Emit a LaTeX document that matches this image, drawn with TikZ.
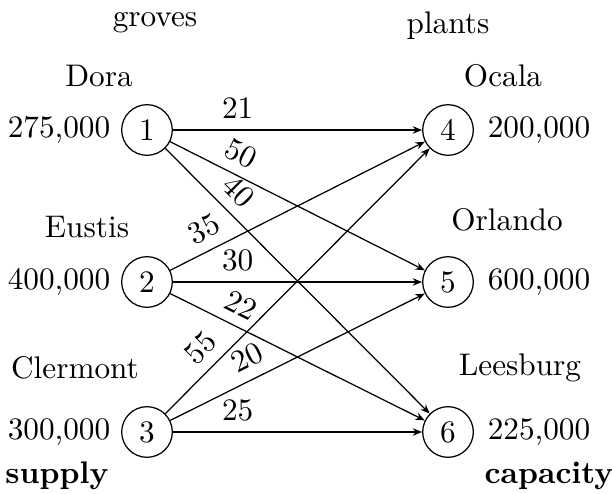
\documentclass[tikz,border=0pt]{standalone}
\usetikzlibrary{arrows.meta}
\begin{document}
\begin{tikzpicture}[x=0.32pt,y=-0.32pt,
  vertex/.style={circle,draw,inner sep=0pt,minimum size=16.2pt},
  flow/.style={-{Stealth[length=3pt,width=2.4pt]}},
  cost/.style={sloped,above}]
\useasboundingbox (0,0) rectangle (612,494);

% column headings
\node (hg) at (155,23) {groves};
\node (hp) at (448,26) {plants};

% groves (sources)
\node[vertex] (n1) at (147,130) {1};
\node[vertex] (n2) at (147,282) {2};
\node[vertex] (n3) at (147,432) {3};
% plants (sinks)
\node[vertex] (n4) at (448,130) {4};
\node[vertex] (n5) at (448,282) {5};
\node[vertex] (n6) at (448,432) {6};

% names
\node (dora) at (99,76) {Dora};
\node (eustis) at (87,227) {Eustis};
\node (clermont) at (75,368) {Clermont};
\node (ocala) at (503,76) {Ocala};
\node (orlando) at (507,220) {Orlando};
\node (leesburg) at (520,368) {Leesburg};

% supplies and capacities
\node (s1) at (59,130) {275,000};
\node (s2) at (59,282) {400,000};
\node (s3) at (59,432) {300,000};
\node (c4) at (539,130) {200,000};
\node (c5) at (539,282) {600,000};
\node (c6) at (539,432) {225,000};

\node (supply) at (57,476) {\textbf{supply}};
\node (capacity) at (549,476) {\textbf{capacity}};

% shipping costs
\draw[flow] (n1) -- node[cost,pos=0.26] {21} (n4);
\draw[flow] (n1) -- node[cost,pos=0.24] {50} (n5);
\draw[flow] (n1) -- node[cost,pos=0.22] {40} (n6);
\draw[flow] (n2) -- node[cost,pos=0.17] {35} (n4);
\draw[flow] (n2) -- node[cost,pos=0.26] {30} (n5);
\draw[flow] (n2) -- node[cost,pos=0.24] {22} (n6);
\draw[flow] (n3) -- node[cost,pos=0.19] {55} (n4);
\draw[flow] (n3) -- node[cost,pos=0.34] {20} (n5);
\draw[flow] (n3) -- node[cost,pos=0.26] {25} (n6);
\end{tikzpicture}
\end{document}
